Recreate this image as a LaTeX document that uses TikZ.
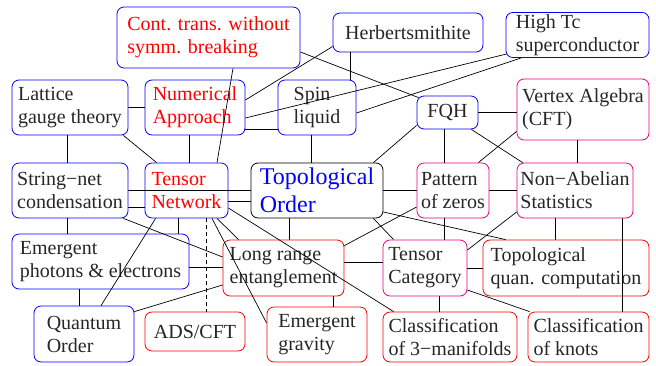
\documentclass[tikz,border=0pt]{standalone}
\usepackage{fontspec}
\setmainfont{Liberation Serif}
\begin{document}
\begin{tikzpicture}[x=1pt,y=-1pt,
  box/.style={draw, rounded corners=7pt, line width=0.8pt, align=left, inner sep=2pt,
    font=\fontsize{20}{23}\selectfont, text=black!85},
  bb/.style={box, draw=blue},
  rb/.style={box, draw=red},
  mb/.style={box, draw=magenta},
  sz/.style n args={2}{minimum width=#1pt, minimum height=#2pt},
  link/.style={line width=0.7pt, draw=black},
  dlink/.style={link, dash pattern=on 4pt off 3pt}]
\useasboundingbox (0,0) rectangle (656,365);

% nodes
\node[bb, sz={183}{61}, text=red] (cont) at (208.5,37.5) {Cont. trans. without\\symm. breaking};
\node[bb, sz={150}{39}] (herb) at (408,32.5) {Herbertsmithite};
\node[bb, sz={143}{44}] (hightc) at (577.5,35) {High Tc\\superconductor};
\node[bb, sz={116}{55}] (lat) at (70,107.5) {Lattice\\gauge theory};
\node[bb, sz={100}{55}, text=red] (num) at (195,107.5) {Numerical\\Approach};
\node[bb, sz={78}{55}] (spin) at (317,107.5) {Spin\\liquid};
\node[bb, sz={61}{33}] (fqh) at (447.5,112.5) {FQH};
\node[mb, sz={132}{61}] (vertex) at (583,109.5) {Vertex Algebra\\(CFT)};
\node[bb, sz={116}{55}] (string) at (70,190.5) {String−net\\condensation};
\node[bb, sz={83}{55}, text=red] (tn) at (186.5,190.5) {Tensor\\Network};
\node[box, draw=black, sz={132}{55}, text=blue, font=\fontsize{24}{28}\selectfont] (topo) at (317,190.5) {Topological\\Order};
\node[mb, sz={72}{55}] (pattern) at (453,190.5) {Pattern\\of zeros};
\node[mb, sz={116}{55}] (nonab) at (575,190.5) {Non−Abelian\\Statistics};
\node[bb, sz={177}{55}] (emph) at (100.5,261.5) {Emergent\\photons \& electrons};
\node[rb, sz={121}{56}] (lre) at (283.5,268) {Long range\\entanglement};
\node[mb, sz={84}{56}] (tcat) at (425,268) {Tensor\\Category};
\node[rb, sz={166}{56}] (tqc) at (566,268) {Topological\\quan. computation};
\node[bb, sz={100}{56}] (qo) at (84,334) {Quantum\\Order};
\node[rb, sz={100}{39}] (ads) at (195,331.5) {ADS/CFT};
\node[rb, sz={100}{55}] (egrav) at (317,334.5) {Emergent\\gravity};
\node[rb, sz={134}{50}] (c3m) at (450,337) {Classification\\of 3−manifolds};
\node[rb, sz={121}{50}] (knots) at (588.5,337) {Classification\\of knots};

% connectors
\draw[link] ([shift={(24.5,0)}]cont.south) -- ([shift={(30.5,0)}]tn.north);
\draw[link] ([shift={(0,14.5)}]cont.east) -- ([shift={(2,2)}]fqh.north west);
\draw[link] ([shift={(0,-7.5)}]num.east) -- ([shift={(0,14)}]herb.west);
\draw[link] ([shift={(0,10.5)}]num.east) -- ([shift={(1,-4)}]hightc.south west);
\draw[link] ([shift={(0,5.5)}]spin.east) -- ([shift={(-56.5,0)}]hightc.south);
\draw[link] ([shift={(-58,0)}]herb.south) -- ([shift={(33,0)}]spin.north);
\draw[link] (lat.east) -- (num.west);
\draw[link] ([shift={(-3,0)}]lat.south) -- ([shift={(-3,0)}]string.north);
\draw[link] ([shift={(-5,0)}]lat.south east) -- ([shift={(12,0)}]tn.north west);
\draw[link] ([shift={(-6,0)}]num.south) -- ([shift={(2.5,0)}]tn.north);
\draw[link] ([shift={(0,21.5)}]num.east) -- ([shift={(0,21.5)}]spin.west);
\draw[link] ([shift={(-6,0)}]spin.south) -- ([shift={(-6,0)}]topo.north);
\draw[link] (fqh.east) -- (fqh.east -| vertex.west);
\draw[link] ([shift={(-3.5,0)}]fqh.south) -- ([shift={(-9,0)}]pattern.north);
\draw[link] ([shift={(0,-4)}]fqh.south west) -- ([shift={(-10,0)}]topo.north east);
\draw[link] ([shift={(-7,0)}]fqh.south east) -- ([shift={(6,0)}]nonab.north west);
\draw[link] ([shift={(0,-9)}]vertex.south west) -- ([shift={(-11,0)}]pattern.north east);
\draw[link] ([shift={(-6,0)}]vertex.south) -- ([shift={(2,0)}]nonab.north);
\draw[link] (string.east) -- (string.east -| topo.west);
\draw[link] ([shift={(0,16.5)}]string.east) -- ([shift={(0,16.5)}]tn.west);
\draw[link] ([shift={(0,10.5)}]tn.east) -- ([shift={(0,10.5)}]topo.west);
\draw[link] ([shift={(-3,0)}]string.south) -- ([shift={(-33.5,0)}]emph.north);
\draw[link] ([shift={(-5,0)}]string.south east) -- ([shift={(0,-11)}]lre.west);
\draw[link] ([shift={(-8.5,0)}]tn.south) -- ([shift={(77.5,0)}]emph.north);
\draw[link] ([shift={(11,0)}]tn.south west) -- ([shift={(17,0)}]qo.north);
\draw[dlink] ([shift={(19.5,0)}]tn.south) -- ([shift={(11,0)}]ads.north);
\draw[link] ([shift={(25.5,0)}]tn.south) -- ([shift={(0,-11.5)}]egrav.west);
\draw[link] ([shift={(30.5,0)}]tn.south) -- ([shift={(16,0)}]lre.north west);
\draw[link] ([shift={(0,17.5)}]tn.east) -- ([shift={(11,0)}]c3m.north west);
\draw[link] ([shift={(0,5.5)}]emph.east) -- ([shift={(0,-1)}]lre.west);
\draw[link] ([shift={(-21.5,0)}]emph.south) -- ([shift={(-5,0)}]qo.north);
\draw[link] ([shift={(0,6)}]qo.north east) -- ([shift={(0,17)}]lre.west);
\draw[link] ([shift={(-28,0)}]topo.south) -- ([shift={(5.5,0)}]lre.north);
\draw[link] ([shift={(-10,0)}]topo.south east) -- ([shift={(11,0)}]tcat.north west);
\draw[link] ([shift={(0,21.5)}]topo.east) -- ([shift={(23,0)}]tqc.north west);
\draw[link] (topo.east) -- (pattern.west);
\draw[link] (pattern.east) -- (nonab.west);
\draw[link] ([shift={(0,16.5)}]pattern.west) -- ([shift={(0,6)}]lre.north east);
\draw[link] ([shift={(-9,0)}]pattern.south) -- ([shift={(19,0)}]tcat.north);
\draw[link] ([shift={(0,21.5)}]nonab.west) -- ([shift={(0,-18)}]tcat.east);
\draw[link] ([shift={(-20,0)}]nonab.south) -- ([shift={(-11,0)}]tqc.north);
\draw[link] ([shift={(47,0)}]nonab.south) -- ([shift={(33.5,0)}]knots.north);
\draw[link] ([shift={(0,-6)}]lre.east) -- ([shift={(0,-6)}]tcat.west);
\draw[link] ([shift={(49.5,0)}]lre.south) -- ([shift={(16,0)}]egrav.north);
\draw[link] (tcat.east) -- (tqc.west);
\draw[link] ([shift={(14,0)}]tcat.south) -- ([shift={(-11,0)}]c3m.north);
\draw[link] ([shift={(0,22)}]tcat.east) -- ([shift={(2,0)}]knots.north west);
\end{tikzpicture}
\end{document}
